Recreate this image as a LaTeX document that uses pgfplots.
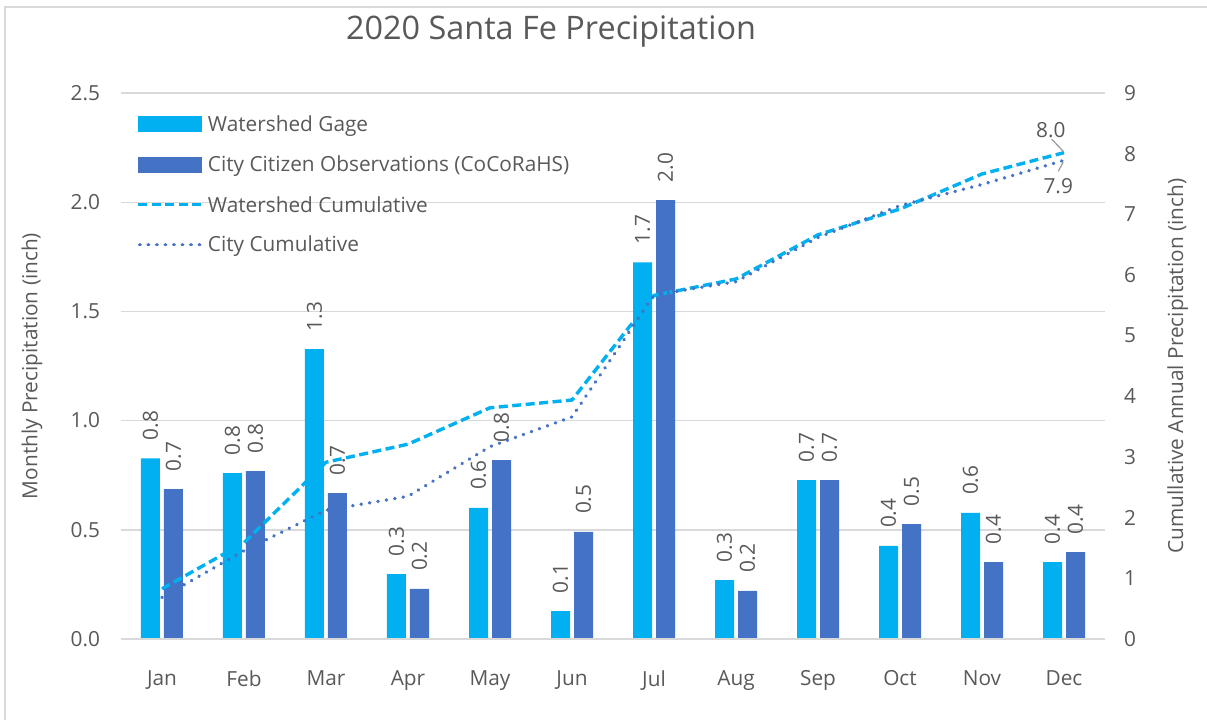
\documentclass[border=0pt]{standalone}
\usepackage{pgfplots}
\pgfplotsset{compat=1.18}
\usepackage{fontspec}
\setmainfont{Open Sans}
\definecolor{wsblue}{HTML}{00B0F0}
\definecolor{ctblue}{HTML}{4472C4}
\definecolor{txt}{HTML}{595959}
\definecolor{gridc}{HTML}{D9D9D9}
\newcommand{\fs}{\fontsize{10.4}{12}\selectfont}
\tikzset{
  wsline/.style={wsblue, line width=1.7pt, dash pattern=on 4.5pt off 2.25pt},
  ctline/.style={ctblue, line width=1.9pt, line cap=round, dash pattern=on 0.01pt off 4.25pt},
}
\begin{document}
\begin{tikzpicture}
\useasboundingbox (-60.5pt,-40pt) rectangle (543pt,319.5pt);
\draw[gridc, line width=1pt] (-57.75pt,-45pt) -- (-57.75pt,316pt) -- (550pt,316pt);
\pgfplotsset{
  base/.style={
    scale only axis, width=492pt, height=273pt, at={(0,0)}, anchor=south west,
    xmin=-0.5, xmax=11.5, clip=false,
    /pgf/number format/assume math mode=true,
    tick style={draw=none},
    axis line style={draw=none},
    ticklabel style={font=\fs, text=txt},
    label style={font=\fs, text=txt},
  }
}
\begin{axis}[base,
  ymin=0, ymax=2.5, ytick={0,0.5,1,1.5,2,2.5},
  yticklabel style={/pgf/number format/fixed, /pgf/number format/fixed zerofill, /pgf/number format/precision=1, xshift=-7pt},
  ymajorgrids, grid style={gridc, line width=0.7pt},
  xtick={0,...,11},
  xticklabels={Jan,Feb,Mar,Apr,May,Jun,Jul,Aug,Sep,Oct,Nov,Dec},
  xticklabel style={yshift=-8pt},
  ylabel={Monthly Precipitation (inch)},
  ylabel style={at={(axis description cs:-0.0905,0.5)}, anchor=center},
  ybar, bar width=9.5pt,
  nodes near coords={\pgfmathprintnumber[fixed,fixed zerofill,precision=1]{\pgfplotspointmeta}},
  every node near coord/.append style={rotate=90, anchor=west, font=\fs, text=txt, inner xsep=2pt, outer xsep=7pt},
]
\addplot[fill=wsblue, draw=none, bar shift=-5.75pt] coordinates {
 (0,0.827) (1,0.760) (2,1.327) (3,0.297) (4,0.600) (5,0.128)
 (6,1.725) (7,0.270) (8,0.728) (9,0.426) (10,0.577) (11,0.352)};
\addplot[fill=ctblue, draw=none, bar shift=5.75pt] coordinates {
 (0,0.686) (1,0.769) (2,0.668) (3,0.229) (4,0.819) (5,0.490)
 (6,2.009) (7,0.220) (8,0.728) (9,0.526) (10,0.352) (11,0.398)};
\draw[gridc, line width=1.1pt] (rel axis cs:0,0) -- (rel axis cs:1,0);
\end{axis}
\begin{axis}[base,
  hide x axis,
  ymin=0, ymax=9, ytick={0,...,9},
  axis y line*=right,
  yticklabel style={xshift=6pt},
  ylabel={Cumullative Annual Precipitation (inch)},
  ylabel style={at={(axis description cs:1.074,0.5)}, anchor=center},
  legend style={at={(axis description cs:0.0152,0.959)}, anchor=north west, draw=none, fill=none,
    inner sep=0pt, row sep=12.5pt, column sep=2.5pt,
    font=\fs, text=txt,
    nodes={text height=7.4pt, text depth=0pt, inner sep=0pt}},
  legend cell align=left,
]
\addlegendimage{legend image code/.code={\fill[wsblue] (0pt,-3.75pt) rectangle (31.5pt,3.75pt);}}
\addlegendimage{legend image code/.code={\fill[ctblue] (0pt,-3.75pt) rectangle (31.5pt,3.75pt);}}
\addplot[wsline, legend image code/.code={\draw[wsline] (0pt,0pt) -- (31.5pt,0pt);}] coordinates {
 (0,0.827) (1,1.587) (2,2.914) (3,3.211) (4,3.811) (5,3.939)
 (6,5.664) (7,5.934) (8,6.662) (9,7.088) (10,7.665) (11,8.017)};
\addplot[ctline, legend image code/.code={\draw[ctline] (0.9pt,0pt) -- (31.5pt,0pt);}] coordinates {
 (0,0.686) (1,1.455) (2,2.123) (3,2.352) (4,3.171) (5,3.661)
 (6,5.670) (7,5.890) (8,6.618) (9,7.144) (10,7.492) (11,7.890)};
\legend{Watershed Gage, City Citizen Observations (CoCoRaHS), Watershed Cumulative, City Cumulative}
\draw[black!40, line width=0.6pt] (axis cs:10.99,8.04) -- (axis cs:10.85,8.24);
\node[anchor=base, text=txt, font=\fs, inner sep=0pt] at (axis cs:10.84,8.27) {8.0};
\draw[black!40, line width=0.6pt] (axis cs:10.99,7.86) -- (axis cs:10.93,7.71);
\node[anchor=base, text=txt, font=\fs, inner sep=0pt] at (axis cs:10.93,7.35) {7.9};
\end{axis}
\node[anchor=base, text=txt, font=\fontsize{16.2}{19}\selectfont] at (215pt,299.5pt) {2020 Santa Fe Precipitation};
\end{tikzpicture}
\end{document}
